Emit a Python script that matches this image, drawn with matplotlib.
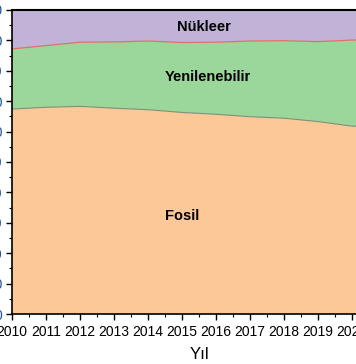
import numpy as np
import matplotlib
matplotlib.use("Agg")
import matplotlib.pyplot as plt
from matplotlib.ticker import MultipleLocator

plt.rcParams['font.family'] = ['Liberation Sans', 'DejaVu Sans']

# data (share of electricity, %)
years = [2010, 2011, 2012, 2013, 2014, 2015, 2016, 2017, 2018, 2019, 2020, 2021]
fosil = [67.4, 68.0, 68.3, 67.7, 67.2, 66.3, 65.7, 64.9, 64.4, 63.3, 61.8, 61.5]
yenilenebilir = [19.8, 20.3, 21.1, 21.8, 22.6, 23.0, 23.7, 24.9, 25.5, 26.3, 28.3, 28.7]
nukleer = [12.8, 11.7, 10.6, 10.5, 10.2, 10.7, 10.6, 10.2, 10.1, 10.4, 9.9, 9.8]

c_fosil = '#fdc898'
c_yen = '#9bd69a'
c_nuk = '#c1b2d7'

fig = plt.figure(figsize=(3.56, 3.64), dpi=100)
# axes wider than the figure, right side is cut off like the reference
ax = fig.add_axes([12/356, 50/364, 374/356, 304/364])

x = np.array(years)
f = np.array(fosil)
r = f + np.array(yenilenebilir)
ax.fill_between(x, 0, f, color=c_fosil, lw=0)
ax.fill_between(x, f, r, color=c_yen, lw=0)
ax.fill_between(x, r, 100, color=c_nuk, lw=0)
ax.plot(x, f, color='#7f8f7a', lw=0.8)
ax.plot(x, r, color='#e0706a', lw=0.9)

ax.set_xlim(2010, 2021)
ax.set_ylim(0, 100)

ax.text(2015.65, 94.4, 'Nükleer', ha='center', va='center', fontsize=10.5, fontweight='bold')
ax.text(2015.75, 78, 'Yenilenebilir', ha='center', va='center', fontsize=10.5, fontweight='bold')
ax.text(2015.0, 32.2, 'Fosil', ha='center', va='center', fontsize=10.5, fontweight='bold')

ax.xaxis.set_major_locator(MultipleLocator(1))
ax.xaxis.set_minor_locator(MultipleLocator(0.5))
ax.yaxis.set_major_locator(MultipleLocator(10))
ax.yaxis.set_minor_locator(MultipleLocator(5))
ax.tick_params(which='major', direction='out', length=4, width=1, labelsize=10, pad=4)
ax.tick_params(which='minor', direction='out', length=2.5, width=0.8)
ax.tick_params(axis='y', labelcolor='#1f4fa0', pad=3)
ax.set_xticklabels([str(int(t)) for t in ax.get_xticks()])

for s in ax.spines.values():
    s.set_linewidth(1.2)
ax.spines['top'].set_linewidth(1.5)

ax.set_xlabel('Yıl', fontsize=12, labelpad=6)

fig.savefig('out.png', dpi=100)
